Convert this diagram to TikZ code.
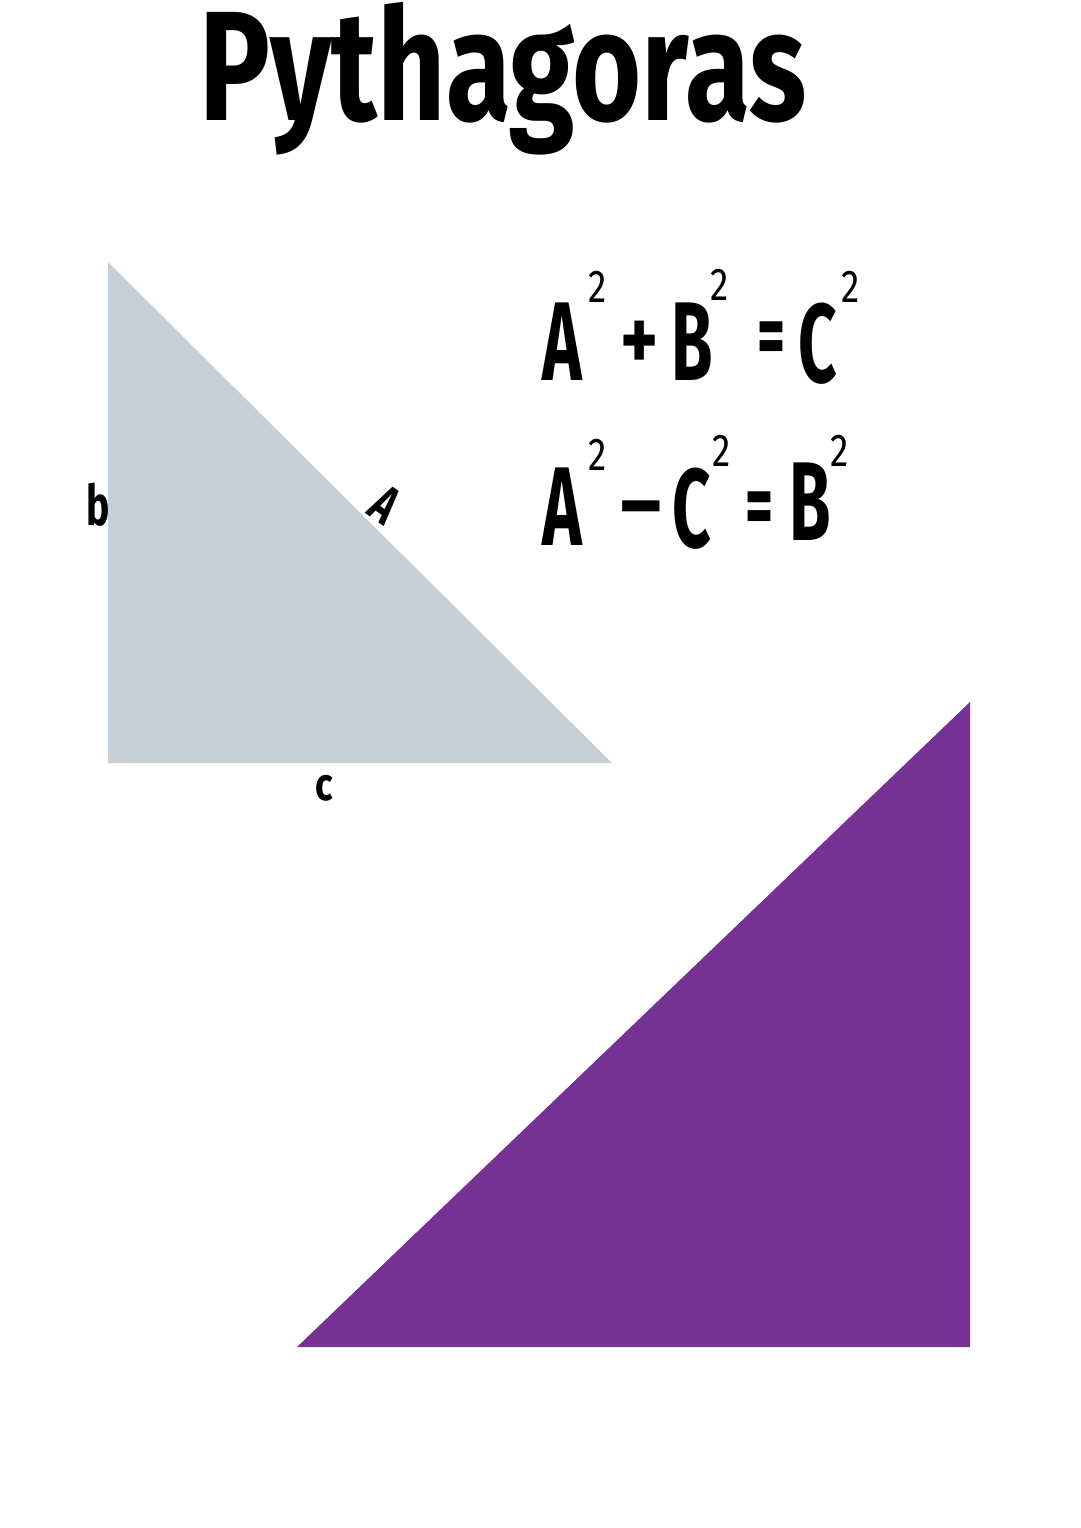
\documentclass[tikz,border=0pt]{standalone}
\usepackage{fontspec}
\setmainfont{Fira Sans}
\usepackage{graphicx}
\definecolor{greytri}{HTML}{C7CFD8}
\definecolor{purptri}{HTML}{753293}
\newcommand\nrw[2]{\scalebox{#1}[1]{#2}}
\begin{document}
\begin{tikzpicture}[x=1pt,y=-1pt,
  titletext/.style={anchor=base,inner sep=0pt,font=\bfseries\fontsize{156}{156}\selectfont},
  glyph/.style={anchor=base,inner sep=0pt,font=\bfseries\fontsize{112}{112}\selectfont},
  opglyph/.style={anchor=center,inner sep=0pt,font=\bfseries\fontsize{90}{90}\selectfont},
  supglyph/.style={anchor=base,inner sep=0pt,font=\fontsize{46}{46}\selectfont},
  sidelabel/.style={inner sep=0pt,font=\bfseries\fontsize{56}{56}\selectfont}]
\useasboundingbox (0,0) rectangle (1080,1528);
% triangles
\coordinate (g1) at (108,262);
\coordinate (g2) at (108,763);
\coordinate (g3) at (612,763);
\fill[greytri] (g1) -- (g2) -- (g3) -- cycle;
\coordinate (p1) at (970,702);
\coordinate (p2) at (970,1347);
\coordinate (p3) at (297,1347);
\fill[purptri] (p1) -- (p2) -- (p3) -- cycle;
% title
\node[titletext] (title) at (503,120) {\nrw{0.76}{Pythagoras}};
% equation 1
\node[glyph] (e1a) at (562,380) {\nrw{0.6}{A}};
\node[supglyph] (e1s1) at (598,302) {\nrw{0.8}{2}};
\node[opglyph] (e1p) at (640,346) {\nrw{0.8}{+}};
\node[glyph] (e1b) at (692,380) {\nrw{0.6}{B}};
\node[supglyph] (e1s2) at (720,300) {\nrw{0.8}{2}};
\node[opglyph] (e1e) at (772,344) {\nrw{0.6}{=}};
\node[glyph] (e1c) at (818,382) {\nrw{0.6}{C}};
\node[supglyph] (e1s3) at (851,302) {\nrw{0.8}{2}};
% equation 2
\node[glyph] (e2a) at (562,545) {\nrw{0.6}{A}};
\node[supglyph] (e2s1) at (598,470) {\nrw{0.8}{2}};
\node[opglyph] (e2m) at (641,518) {\nrw{1.3}{-}};
\node[glyph] (e2c) at (692,547) {\nrw{0.6}{C}};
\node[supglyph] (e2s2) at (722,466) {\nrw{0.8}{2}};
\node[opglyph] (e2e) at (760,514) {\nrw{0.6}{=}};
\node[glyph] (e2b) at (810,540) {\nrw{0.6}{B}};
\node[supglyph] (e2s3) at (840,466) {\nrw{0.8}{2}};
% side labels
\node[sidelabel,anchor=base] (lb) at (98,525) {\nrw{0.7}{b}};
\node[sidelabel,anchor=center,rotate=-35,font=\bfseries\fontsize{54}{54}\selectfont] (la) at (385,505) {\nrw{0.7}{A}};
\node[sidelabel,anchor=center,font=\bfseries\fontsize{46}{46}\selectfont] (lc) at (324,788) {\nrw{0.8}{c}};
\end{tikzpicture}
\end{document}
